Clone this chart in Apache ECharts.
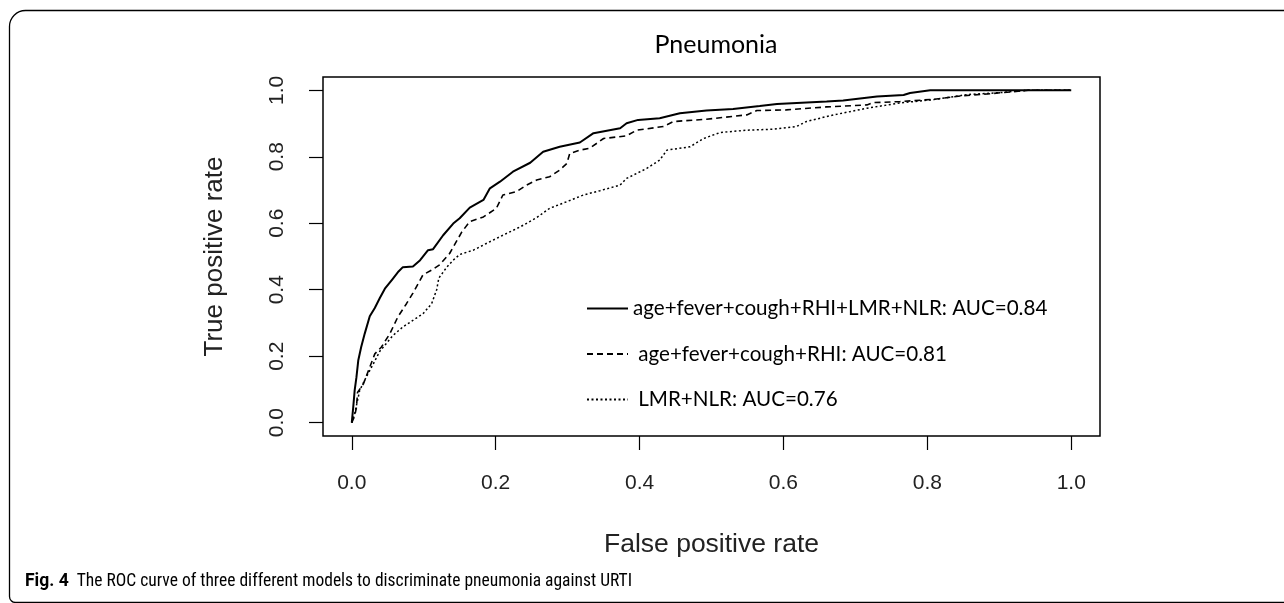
<!DOCTYPE html>
<html>
<head>
<meta charset="utf-8">
<script src="https://cdn.jsdelivr.net/npm/echarts@6/dist/echarts.min.js"></script>
<style>
html,body{margin:0;padding:0;background:#fff;}
#chart{width:1284px;height:603px;}
</style>
</head>
<body>
<div id="chart"></div>
<script>
// ---- data ----
const chartTitle = "Pneumonia";
const xAxisTitle = "False positive rate";
const yAxisTitle = "True positive rate";
const tickValues = [0, 0.2, 0.4, 0.6, 0.8, 1.0];
const tickLabels = ["0.0", "0.2", "0.4", "0.6", "0.8", "1.0"];
const seriesNames = [
  "age+fever+cough+RHI+LMR+NLR: AUC=0.84",
  "age+fever+cough+RHI: AUC=0.81",
  "LMR+NLR: AUC=0.76"
];
const captionBold = "Fig. 4";
const captionText = "The ROC curve of three different models to discriminate pneumonia against URTI";

// model 1 (solid)
const fprFull = [0,0.002,0.004,0.0065,0.009,0.013,0.018,0.025,0.032,0.039,0.046,0.057,0.065,0.071,0.085,0.095,0.106,0.113,0.127,0.141,0.150,0.164,0.183,0.192,0.206,0.224,0.248,0.266,0.289,0.317,0.336,0.373,0.382,0.398,0.428,0.456,0.493,0.530,0.567,0.591,0.660,0.683,0.730,0.767,0.776,0.804,1.0];
const tprFull = [0,0.046,0.097,0.137,0.187,0.227,0.268,0.320,0.345,0.375,0.403,0.433,0.455,0.468,0.470,0.489,0.519,0.522,0.564,0.599,0.615,0.647,0.670,0.705,0.725,0.755,0.782,0.815,0.830,0.843,0.871,0.886,0.901,0.911,0.916,0.931,0.939,0.944,0.953,0.959,0.966,0.969,0.981,0.986,0.992,1.0,1.0];
// model 2 (dashed)
const fprClin = [0,0.004,0.0065,0.008,0.016,0.025,0.032,0.041,0.053,0.064,0.076,0.085,0.099,0.111,0.122,0.136,0.153,0.164,0.183,0.201,0.210,0.229,0.243,0.257,0.275,0.289,0.299,0.303,0.317,0.331,0.350,0.382,0.396,0.433,0.447,0.493,0.549,0.563,0.604,0.660,0.716,0.725,0.762,0.809,0.846,0.883,0.920,0.940,1.0];
const tprClin = [0,0.020,0.046,0.091,0.116,0.167,0.207,0.227,0.268,0.318,0.358,0.390,0.445,0.459,0.475,0.509,0.574,0.605,0.619,0.645,0.685,0.695,0.715,0.730,0.740,0.760,0.780,0.810,0.820,0.826,0.855,0.863,0.880,0.891,0.906,0.913,0.926,0.939,0.941,0.950,0.956,0.963,0.966,0.973,0.983,0.989,0.996,1.0,1.0];
// model 3 (dotted)
const fprLab = [0,0.002,0.004,0.011,0.020,0.030,0.039,0.057,0.071,0.085,0.099,0.111,0.118,0.121,0.132,0.141,0.150,0.169,0.187,0.210,0.234,0.257,0.275,0.299,0.322,0.345,0.373,0.382,0.410,0.428,0.438,0.470,0.489,0.512,0.549,0.586,0.618,0.632,0.660,0.670,0.716,0.762,0.809,0.855,0.901,0.920,0.940,1.0];
const tprLab = [0,0.006,0.027,0.097,0.137,0.177,0.215,0.262,0.288,0.308,0.328,0.358,0.400,0.435,0.468,0.489,0.506,0.519,0.539,0.564,0.589,0.617,0.645,0.665,0.685,0.698,0.715,0.735,0.765,0.790,0.820,0.830,0.855,0.873,0.880,0.883,0.891,0.906,0.921,0.926,0.946,0.962,0.972,0.987,0.993,0.997,1.0,1.0];

// ---- chart ----
const zip = (xs, ys) => xs.map((x, i) => [x, ys[i]]);
const axisFont = "'Liberation Sans', Arial, sans-serif";
const textFont = "Lato, 'Open Sans', sans-serif";
const tickFmt = v => tickLabels[tickValues.findIndex(t => Math.abs(t - v) < 1e-9)];

const chart = echarts.init(document.getElementById('chart'), null, {renderer: 'canvas'});
const option = {
  backgroundColor: '#fff',
  animation: false,
  title: {
    text: chartTitle,
    left: 711, top: 27, textAlign: 'center',
    textStyle: {fontFamily: textFont, fontSize: 25, fontWeight: 'normal', color: '#000'}
  },
  legend: {
    orient: 'vertical',
    left: 581, top: 293,
    itemWidth: 41, itemHeight: 14, itemGap: 24.5,
    itemStyle: {color: 'transparent', borderWidth: 0, opacity: 0},
    textStyle: {fontFamily: textFont, fontSize: 20.6, color: '#000'},
    formatter: function (name) { return name === seriesNames[0] ? name : ' ' + name; },
    data: seriesNames
  },
  grid: {
    left: 323, right: 184, top: 77, bottom: 167,
    show: true, borderColor: '#000', borderWidth: 1.5, backgroundColor: 'transparent'
  },
  xAxis: {
    type: 'value', min: -0.04, max: 1.04,
    name: xAxisTitle, nameLocation: 'middle', nameGap: 95,
    nameTextStyle: {fontFamily: axisFont, fontSize: 26.5, color: '#222'},
    axisLine: {show: false, onZero: false},
    splitLine: {show: false},
    axisTick: {show: true, length: 14, customValues: tickValues, lineStyle: {color: '#000', width: 1.2}},
    axisLabel: {
      customValues: tickValues, margin: 37,
      fontFamily: axisFont, fontSize: 21, color: '#222',
      formatter: tickFmt
    }
  },
  yAxis: {
    type: 'value', min: -0.04, max: 1.04,
    name: yAxisTitle, nameLocation: 'middle', nameGap: 95, nameRotate: 90,
    nameTextStyle: {fontFamily: axisFont, fontSize: 26, color: '#222'},
    axisLine: {show: false, onZero: false},
    splitLine: {show: false},
    axisTick: {show: true, length: 14, customValues: tickValues, lineStyle: {color: '#000', width: 1.2}},
    axisLabel: {
      customValues: tickValues, margin: 35, rotate: 90,
      fontFamily: axisFont, fontSize: 21, color: '#222',
      formatter: tickFmt
    }
  },
  series: [
    {name: seriesNames[0], type: 'line', data: zip(fprFull, tprFull), symbol: 'none',
     lineStyle: {color: '#000', width: 2, type: 'solid'}, itemStyle: {color: '#000'}},
    {name: seriesNames[1], type: 'line', data: zip(fprClin, tprClin), symbol: 'none',
     lineStyle: {color: '#000', width: 1.6, type: [6, 4]}, itemStyle: {color: '#000'}},
    {name: seriesNames[2], type: 'line', data: zip(fprLab, tprLab), symbol: 'none',
     lineStyle: {color: '#000', width: 1.5, type: [2, 2.5]}, itemStyle: {color: '#000'}}
  ],
  graphic: [
    {type: 'rect', silent: true, z: -1,
     shape: {x: 9.5, y: 10.5, width: 1300, height: 592, r: [16, 0, 0, 6]},
     style: {fill: 'none', stroke: '#000', lineWidth: 1.3}},
    {type: 'text', left: 25, top: 573,
     style: {
       text: '{b|' + captionBold + '}  ' + captionText,
       font: "17.5px 'Liberation Sans Narrow', 'Roboto Condensed', Roboto, sans-serif",
       fill: '#000',
       rich: {b: {fontWeight: 'bold', fontSize: 17.5, fontFamily: "'Liberation Sans Narrow', Roboto, sans-serif", fill: '#000'}}
     }}
  ]
};
chart.setOption(option);
</script>
</body>
</html>
